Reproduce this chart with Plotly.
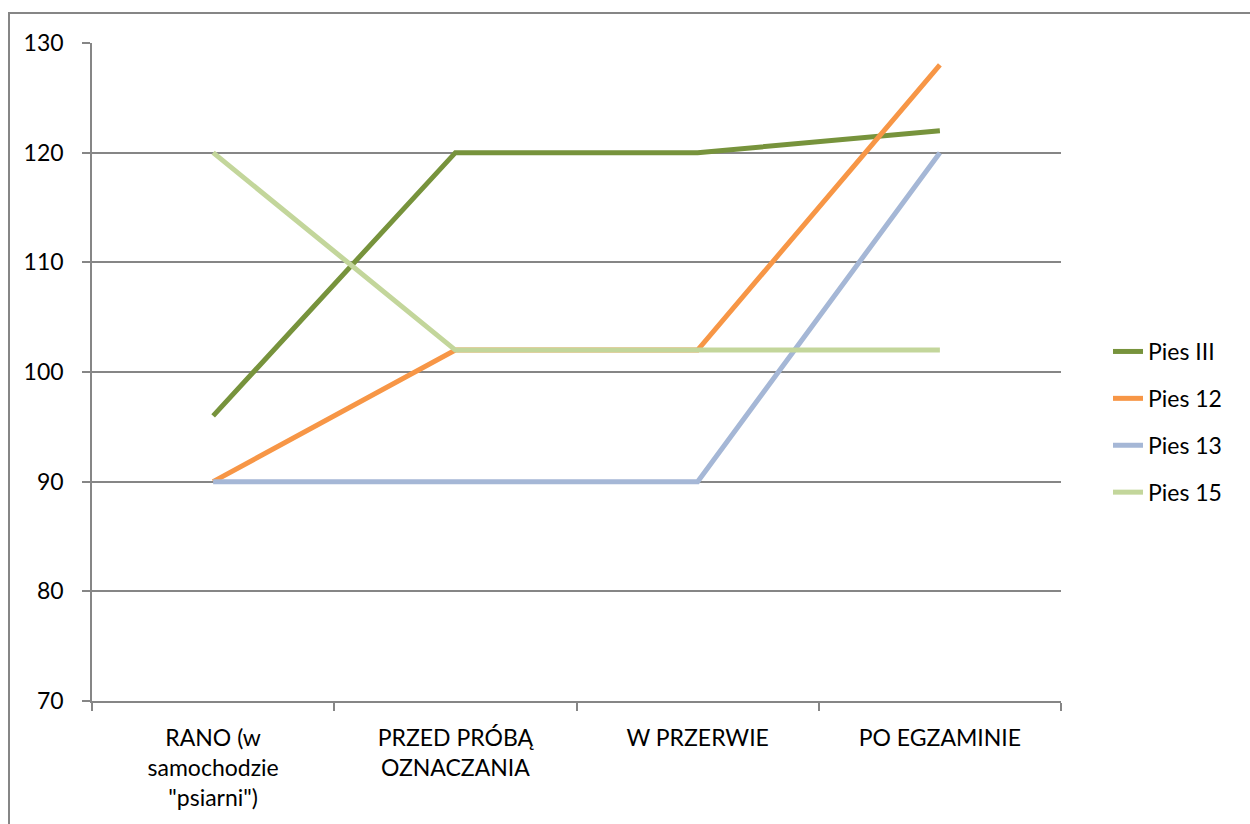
import plotly.graph_objects as go

categories = ["RANO (w<br>samochodzie<br>\"psiarni\")", "PRZED PRÓBĄ<br>OZNACZANIA", "W PRZERWIE", "PO EGZAMINIE"]
series_names = ["Pies III", "Pies 12", "Pies 13", "Pies 15"]
pies_iii = [96, 120, 120, 122]
pies_12 = [90, 102, 102, 128]
pies_13 = [90, 90, 90, 120]
pies_15 = [120, 102, 102, 102]
colors = ["#77933C", "#F79646", "#A5B7D6", "#C3D69B"]
y_ticks = [70, 80, 90, 100, 110, 120, 130]

W, H = 1250, 824
ML, MR, MT, MB = 92, 189, 43, 123
PW, PH = W - ML - MR, H - MT - MB
FONT = "Lato, 'Open Sans', sans-serif"
FS = 23

fig = go.Figure()
for i, (name, vals) in enumerate(zip(series_names, [pies_iii, pies_12, pies_13, pies_15])):
    fig.add_trace(go.Scatter(
        x=categories, y=vals, mode="lines", name=name, legendgroup=name,
        line=dict(color=colors[i], width=5),
    ))

def px_to_paper_x(px):
    return (px - ML) / PW

def px_to_paper_y(py):
    return 1 - (py - MT) / PH

fig.add_shape(type="rect", xref="paper", yref="paper",
              x0=px_to_paper_x(9), x1=px_to_paper_x(1300),
              y0=px_to_paper_y(900), y1=px_to_paper_y(13),
              line=dict(color="#868686", width=2), fillcolor="rgba(0,0,0,0)", layer="below")

fig.update_layout(
    width=W, height=H,
    margin=dict(l=ML, r=MR, t=MT, b=MB, pad=0),
    paper_bgcolor="white", plot_bgcolor="white",
    font=dict(family=FONT, size=FS, color="#000000"),
    showlegend=True,
    legend=dict(x=px_to_paper_x(1108), xanchor="left", y=px_to_paper_y(330), yanchor="top",
                font=dict(size=FS), tracegroupgap=14, bgcolor="rgba(0,0,0,0)"),
    xaxis=dict(type="category", range=[-0.5, 3.5], showgrid=False, showline=True,
               linecolor="#868686", linewidth=1.5, ticks="outside", tickson="boundaries",
               ticklen=8, tickcolor="#868686", tickwidth=1.5, zeroline=False,
               ticklabelstandoff=16, tickfont=dict(size=FS)),
    yaxis=dict(range=[70, 130], tickvals=y_ticks, showgrid=True, gridcolor="#868686",
               gridwidth=1.5, showline=True, linecolor="#868686", linewidth=1.5,
               ticks="outside", ticklen=8, tickcolor="#868686", tickwidth=1.5,
               zeroline=False, ticklabelstandoff=14, tickfont=dict(size=FS)),
)

fig.write_html("out.html")
